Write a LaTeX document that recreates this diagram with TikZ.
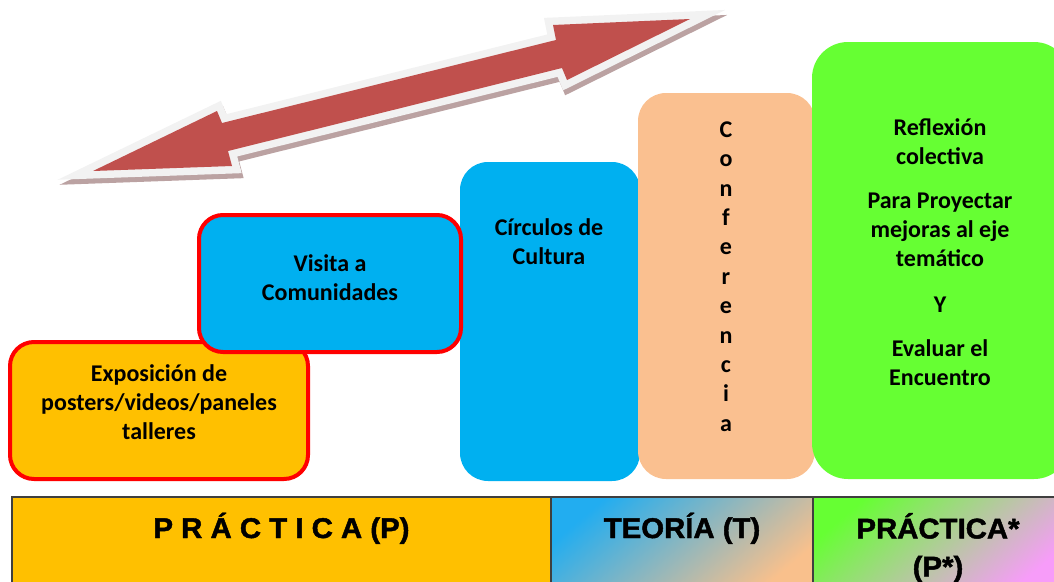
\documentclass[tikz,border=0pt]{standalone}
\usepackage{fontspec}
\setmainfont{Carlito}
\newfontfamily\bandfont[FakeStretch=1.03, BoldFeatures={FakeBold=1.6}]{Liberation Sans}
\definecolor{cblue}{HTML}{00B0F0}
\definecolor{corange}{HTML}{FFC000}
\definecolor{cpeach}{HTML}{FAC090}
\definecolor{cgreen}{HTML}{66FF33}
\definecolor{cred}{HTML}{FF0000}
\definecolor{carrow}{HTML}{C0504D}
\definecolor{coutline}{HTML}{F2F2F2}
\definecolor{cshadow}{HTML}{BBA2A2}
\definecolor{cborder}{HTML}{3F3F3F}
\definecolor{gblue}{HTML}{22ADF0}
\definecolor{gpeach}{HTML}{F9C08C}
\definecolor{ggreen}{HTML}{66FF33}
\definecolor{gpink}{HTML}{F79CF9}
\newcommand\mystrut{\rule{0pt}{22pt}}
\newcommand\bandstrut{\rule{0pt}{24pt}}
\begin{document}
\begin{tikzpicture}[x=1pt,y=-1pt,
  box/.style={rectangle, inner sep=0, outer sep=0},
  redbox/.style={box, draw=cred, line width=4pt, rounded corners=24pt},
  txt/.style={inner sep=0, align=center, anchor=north, font=\fontsize{24}{29}\selectfont\bfseries},
  bandcell/.style={rectangle, draw=cborder, line width=1.5pt, inner sep=0, outer sep=0},
  bandtxt/.style={inner sep=0, align=center, font=\bandfont\fontsize{28.5}{38}\selectfont\bfseries}]
\useasboundingbox (0,0) rectangle (1054,581);
\clip (0,0) rectangle (1054,581);

% arrow: shadow, outline, body
\draw[cshadow, fill=cshadow, line width=15pt, line join=miter, shift={(2,5)}]
  (93,171) -- (217,111) -- (222,123) -- (556,40) -- (553,25) -- (690,19) -- (567,80) -- (562,68) -- (228,151) -- (232,166) -- cycle;
\draw[white, line width=0.6pt, dash pattern=on 2pt off 1pt, shift={(2,3.5)}]
  (237,166) -- (570,82);
\draw[coutline, line width=15pt, line join=miter]
  (93,171) -- (217,111) -- (222,123) -- (556,40) -- (553,25) -- (690,19) -- (567,80) -- (562,68) -- (228,151) -- (232,166) -- cycle;
\fill[carrow]
  (93,171) -- (217,111) -- (222,123) -- (556,40) -- (553,25) -- (690,19) -- (567,80) -- (562,68) -- (228,151) -- (232,166) -- cycle;

% tall boxes
\node[box, fill=cblue, rounded corners=28pt, minimum width=180pt, minimum height=319pt] (circ) at (550,321.5) {};
\node[box, fill=cpeach, rounded corners=28pt, minimum width=177pt, minimum height=386pt] (conf) at (726.5,286) {};
\node[box, fill=cgreen, rounded corners=36pt, minimum width=258pt, minimum height=437pt] (refl) at (941,260.5) {};

% red-bordered boxes
\node[redbox, fill=corange, minimum width=298pt, minimum height=137pt] (expo) at (159,410.5) {};
\node[redbox, fill=cblue, minimum width=262pt, minimum height=137pt] (visi) at (330,283.5) {};

% texts
\node[txt] (texpo) at (159,359) {\mystrut Exposición de\\posters/videos/paneles\\talleres};
\node[txt] (tvisi) at (330,249) {\mystrut Visita a\\Comunidades};
\node[txt] (tcirc) at (549,213) {\mystrut Círculos de\\Cultura};
\node[txt, font=\fontsize{24}{29.4}\selectfont\bfseries] (tconf) at (726,115) {\mystrut C\\o\\n\\f\\e\\r\\e\\n\\c\\i\\a};
\node[txt] (trefl) at (940,113) {\mystrut Reflexión\\colectiva\\[15pt]Para Proyectar\\mejoras al eje\\temático\\[17pt]Y\\[15pt]Evaluar el\\Encuentro};

% bottom band
\node[bandcell, fill=corange, minimum width=539pt, minimum height=95pt] (cp) at (281.5,544.5) {};
\node[bandcell, top color=gblue, bottom color=gpeach, shading angle=40, minimum width=262pt, minimum height=95pt] (ct) at (682,544.5) {};
\node[bandcell, top color=ggreen, bottom color=gpink, shading angle=40, minimum width=250pt, minimum height=95pt] (cq) at (938,544.5) {};
\node[bandtxt, anchor=base] (tp) at (281.5,538) {P R Á C T I C A (P)};
\node[bandtxt, anchor=base] (tt) at (682,538) {TEORÍA (T)};
\node[bandtxt, anchor=north] (tq) at (938,513) {\bandstrut PRÁCTICA*\\(P*)};
\end{tikzpicture}
\end{document}
